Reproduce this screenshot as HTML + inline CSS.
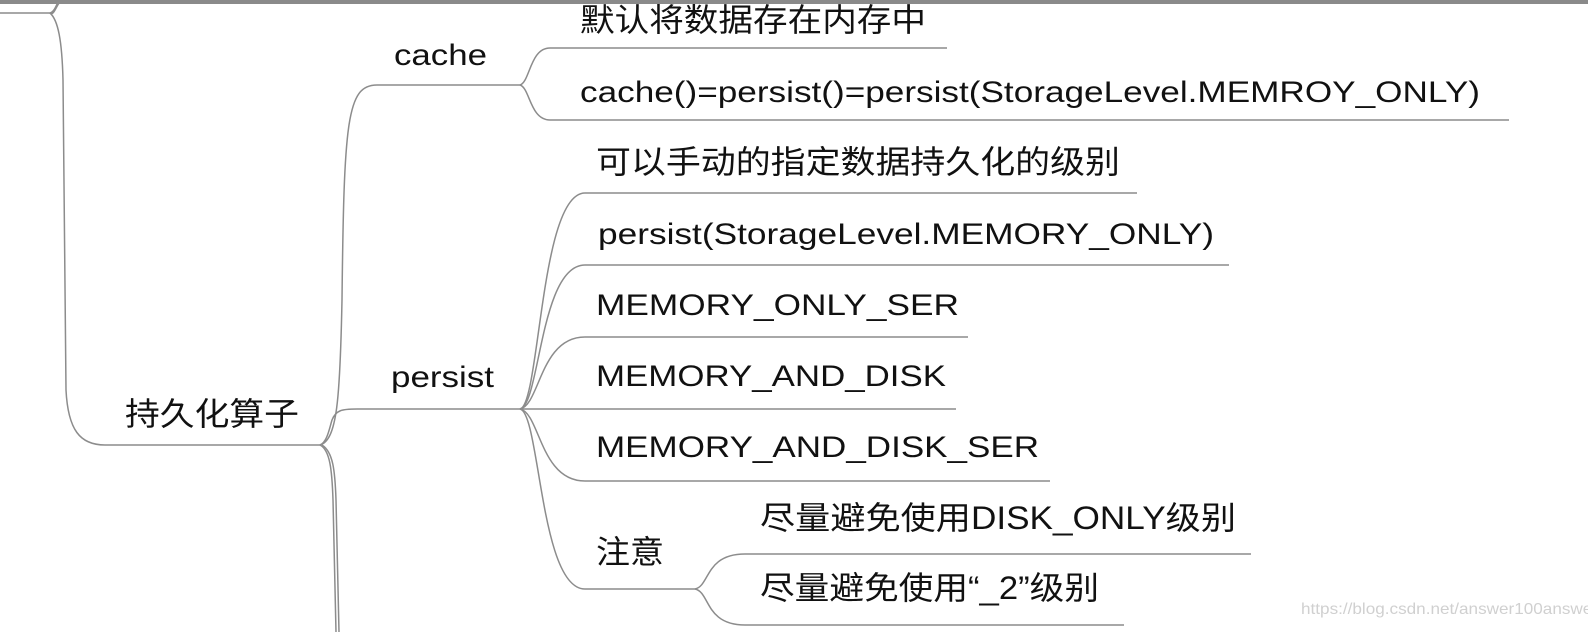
<!DOCTYPE html>
<html><head><meta charset="utf-8"><style>
html,body{margin:0;padding:0;background:#fff;}
svg{display:block}
text{font-family:"Liberation Sans","Noto Sans CJK SC",sans-serif;fill:#111;}
</style></head><body>
<svg width="1588" height="632" viewBox="0 0 1588 632" xmlns="http://www.w3.org/2000/svg">
<rect x="0" y="0" width="1588" height="4" fill="#8a8a8a"/>
<g fill="none" stroke="#8c8c8c" stroke-width="1.5">
<path d="M0 13 H50"/>
<path d="M50 13 C54 12 56 6 58 2"/>
<path d="M50 13 C54 16 56 6 60 2"/>
<path d="M50 13 C58 20 62 40 63 80 L66 390 C68 430 80 445 105 445 H320"/>
<path d="M320 445 C337 440 340 400 342 300 C344 120 347 85 377 85 H520"/>
<path d="M320 445 C327 442 329 430 332 420 C336 410 342 409 357 409 H520"/>
<path d="M320 445 C330 450 332 470 333 500 L336 632"/>
<path d="M322 445 C333 452 335 470 336 500 L339 632"/>
<path d="M520 85 C530 82 530 48 550 48 H947"/>
<path d="M520 85 C530 88 530 120 550 120 H1509"/>
<path d="M520 409 C540 405 540 193 585 193 H1137"/>
<path d="M520 409 C540 405 540 265 585 265 H1229"/>
<path d="M520 409 C540 405 540 337 585 337 H968"/>
<path d="M520 409 H956"/>
<path d="M520 409 C540 413 540 481 585 481 H1050"/>
<path d="M520 409 C540 413 540 589 585 589 H695"/>
<path d="M695 589 C710 586 705 554 745 554 H1251"/>
<path d="M695 589 C710 592 705 625 745 625 H1124"/>
</g>
<g font-size="30">
<text x="125" y="425" font-size="32" textLength="174" lengthAdjust="spacingAndGlyphs">持久化算子</text>
<text x="394" y="65" textLength="93" lengthAdjust="spacingAndGlyphs">cache</text>
<text x="391" y="387" textLength="103" lengthAdjust="spacingAndGlyphs">persist</text>
<text x="580" y="31" font-size="32" textLength="346" lengthAdjust="spacingAndGlyphs">默认将数据存在内存中</text>
<text x="580" y="102" textLength="900" lengthAdjust="spacingAndGlyphs">cache()=persist()=persist(StorageLevel.MEMROY_ONLY)</text>
<text x="596" y="173" font-size="32" textLength="524" lengthAdjust="spacingAndGlyphs">可以手动的指定数据持久化的级别</text>
<text x="598" y="244" textLength="616" lengthAdjust="spacingAndGlyphs">persist(StorageLevel.MEMORY_ONLY)</text>
<text x="596" y="315" textLength="363" lengthAdjust="spacingAndGlyphs">MEMORY_ONLY_SER</text>
<text x="596" y="386" textLength="350" lengthAdjust="spacingAndGlyphs">MEMORY_AND_DISK</text>
<text x="596" y="457" textLength="443" lengthAdjust="spacingAndGlyphs">MEMORY_AND_DISK_SER</text>
<text x="596" y="563" font-size="32" textLength="68" lengthAdjust="spacingAndGlyphs">注意</text>
<text x="760" y="529" font-size="32" textLength="476" lengthAdjust="spacingAndGlyphs">尽量避免使用DISK_ONLY级别</text>
<text x="760" y="599" font-size="32" textLength="339" lengthAdjust="spacingAndGlyphs">尽量避免使用“_2”级别</text>
</g>
<text x="1301" y="614" font-size="16" style="fill:#d0d0d0" textLength="297" lengthAdjust="spacingAndGlyphs">https://blog.csdn.net/answer100answer</text>
</svg>
</body></html>
